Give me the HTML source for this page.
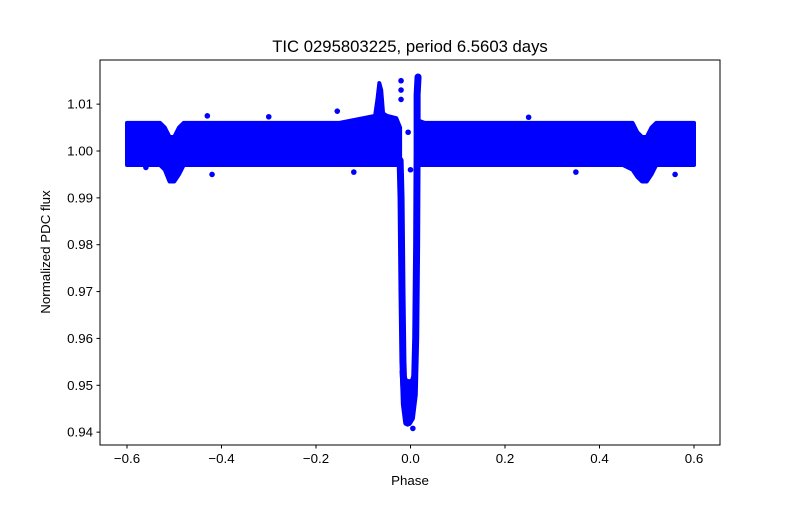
<!DOCTYPE html>
<html><head><meta charset="utf-8"><style>
body{margin:0;background:#fff}
text{font-family:"Liberation Sans",sans-serif;fill:#000}
</style></head><body>
<svg width="800" height="500" viewBox="0 0 800 500">
<rect width="800" height="500" fill="#fff"/>
<g id="marks"></g>
<rect x="100" y="60" width="620" height="385" fill="none" stroke="#000" stroke-width="1"/>
<g id="axes"></g>
<text x="410" y="52" font-size="16.7" text-anchor="middle">TIC 0295803225, period 6.5603 days</text>
<text x="410" y="485" font-size="13.3" text-anchor="middle">Phase</text>
<text x="50" y="252" font-size="13.3" text-anchor="middle" transform="rotate(-90 50 252)">Normalized PDC flux</text>
</svg>
<script>
const leftPhase=[-0.6,-0.56,-0.53,-0.52,-0.51,-0.50,-0.49,-0.48,-0.45,-0.3,-0.15,-0.1,-0.075,-0.07,-0.066,-0.062,-0.058,-0.05,-0.03,-0.022];
const leftUpper=[1.006,1.006,1.006,1.005,1.003,1.003,1.005,1.006,1.006,1.006,1.006,1.007,1.0075,1.011,1.0145,1.013,1.008,1.0075,1.007,1.005];
const leftLower=[0.997,0.997,0.997,0.996,0.9935,0.9935,0.995,0.997,0.997,0.997,0.997,0.997,0.997,0.997,0.997,0.997,0.997,0.997,0.997,0.997];
const rightPhase=[0.016,0.03,0.05,0.1,0.3,0.45,0.47,0.48,0.49,0.50,0.51,0.52,0.55,0.6];
const rightUpper=[1.0065,1.006,1.006,1.006,1.006,1.006,1.006,1.004,1.003,1.003,1.005,1.006,1.006,1.006];
const rightLower=[0.997,0.997,0.997,0.997,0.997,0.997,0.996,0.9945,0.9935,0.9935,0.995,0.997,0.997,0.997];
const leftArmPhase=[-0.022,-0.02,-0.018,-0.016,-0.013,-0.008];
const leftArmFlux=[0.998,0.99,0.97,0.955,0.946,0.942];
const rightArmPhase=[0.016,0.014,0.014,0.013,0.011,0.008,0.002,-0.004];
const rightArmFlux=[1.0158,1.012,1.0,0.98,0.96,0.948,0.943,0.942];
const blobPhase=[-0.02,-0.016,-0.012,-0.006,0.0,0.006,0.008,0.008,0.002,-0.008,-0.016];
const blobFlux=[0.953,0.946,0.943,0.9415,0.9425,0.945,0.95,0.953,0.951,0.951,0.953];
const outPhase=[-0.02,-0.02,-0.02,-0.155,-0.43,-0.42,-0.56,0.35,0.56,-0.12,0.005,-0.3,0.25,-0.005,0.0];
const outFlux=[1.015,1.013,1.011,1.0085,1.0075,0.995,0.9965,0.9955,0.995,0.9955,0.9408,1.0073,1.0072,1.004,0.996];
const xTicks=[-0.6,-0.4,-0.2,0.0,0.2,0.4,0.6];
const xTickLabels=["−0.6","−0.4","−0.2","0.0","0.2","0.4","0.6"];
const yTicks=[0.94,0.95,0.96,0.97,0.98,0.99,1.00,1.01];
const yTickLabels=["0.94","0.95","0.96","0.97","0.98","0.99","1.00","1.01"];
const X=p=>410.5+p*472.5;
const Y=f=>151-(f-1)*4686;
const NS="http://www.w3.org/2000/svg";
const marks=document.getElementById('marks'), axes=document.getElementById('axes');
function mk(t,a,parent){const e=document.createElementNS(NS,t);for(const k in a)e.setAttribute(k,a[k]);parent.appendChild(e);return e;}
function band(ph,up,lo,name){
  let pts=[];for(let i=0;i<ph.length;i++)pts.push(X(ph[i])+','+Y(up[i]));
  for(let i=ph.length-1;i>=0;i--)pts.push(X(ph[i])+','+Y(lo[i]));
  const e=mk('polygon',{points:pts.join(' '),fill:'#0000ff',stroke:'#0000ff','stroke-width':4,'stroke-linejoin':'round'},marks);
  
  
}
band(leftPhase,leftUpper,leftLower,'flux-band-left');
band(rightPhase,rightUpper,rightLower,'flux-band-right');
function arm(ph,fl,name,w){
  const e=mk('polyline',{points:ph.map((p,i)=>X(p)+','+Y(fl[i])).join(' '),fill:'none',stroke:'#0000ff','stroke-width':w,'stroke-linecap':'round','stroke-linejoin':'round'},marks);
  
  
}
arm(leftArmPhase,leftArmFlux,'transit-ingress',7);
arm(rightArmPhase,rightArmFlux,'transit-egress',7);
const blob=mk('polygon',{points:blobPhase.map((p,i)=>X(p)+','+Y(blobFlux[i])).join(' '),fill:'#0000ff',stroke:'#0000ff','stroke-width':3,'stroke-linejoin':'round'},marks);


for(let i=0;i<outPhase.length;i++){
  const c=mk('circle',{cx:X(outPhase[i]),cy:Y(outFlux[i]),r:2.8,fill:'#0000ff'},marks);
  
  
}
xTicks.forEach((t,i)=>{
  const l=mk('line',{x1:X(t),x2:X(t),y1:445,y2:448.5,stroke:'#000'},axes);
  
  
  const tx=mk('text',{x:X(t),y:463,'font-size':13.3,'text-anchor':'middle'},axes);
  tx.textContent=xTickLabels[i];
  
  
});
yTicks.forEach((t,i)=>{
  const l=mk('line',{x1:96.5,x2:100,y1:Y(t),y2:Y(t),stroke:'#000'},axes);
  
  
  const tx=mk('text',{x:93,y:Y(t)+4.5,'font-size':13.3,'text-anchor':'end'},axes);
  tx.textContent=yTickLabels[i];
  
  
});
</script>
</body></html>
